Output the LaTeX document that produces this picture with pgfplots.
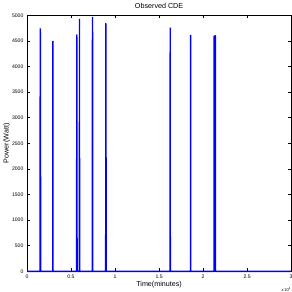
\documentclass[border=0pt]{standalone}
\usepackage{pgfplots}
\pgfplotsset{compat=1.18}
\usepackage{fontspec}
\setmainfont{Liberation Sans}
\begin{document}
\begin{tikzpicture}[trim axis right]
\begin{axis}[
  width=258pt, height=250pt, scale only axis,
  xmin=0, xmax=30000, ymin=0, ymax=5000,
  xtick={0,5000,10000,15000,20000,25000,30000},
  xticklabels={0,0.5,1,1.5,2,2.5,3},
  ytick={0,500,1000,1500,2000,2500,3000,3500,4000,4500,5000},
  yticklabels={0,500,1000,1500,2000,2500,3000,3500,4000,4500,5000},
  scaled x ticks=false,
  scaled y ticks=false,
  tick label style={font=\fontsize{5}{6}\selectfont},
  tick align=inside, major tick length=3pt,
  xlabel={Time(minutes)}, ylabel={Power(Watt)},
  title={Observed CDE},
  label style={font=\fontsize{7}{8}\selectfont},
  title style={font=\fontsize{7}{8}\selectfont, yshift=-3pt},
  xlabel style={yshift=4pt},
  ylabel style={yshift=-5pt},
  axis line style={line width=0.6pt},
  every tick/.style={black, line width=0.5pt},
  clip=false,
]
\addplot[blue, line width=1.3pt, line join=bevel] coordinates {
(0,0)
(1480,0)(1500,4746)(1530,4600)(1550,0)
(2920,0)(2940,4500)(2960,0)
(5630,0)(5650,4626)(5670,4520)(5690,0)
(5940,0)(5960,4932)(5980,0)
(7410,0)(7430,4972)(7450,4632)(7470,0)
(8930,0)(8950,4846)(8970,4700)(8990,0)
(16240,0)(16260,4760)(16280,0)
(18560,0)(18580,4620)(18600,0)
(21240,0)(21250,4590)(21400,4605)(21410,0)
(30000,0)
};
\node[anchor=north east, inner sep=0pt, font=\fontsize{4}{5}\selectfont] at (rel axis cs:1,0) [yshift=-16pt] {x\,10\textsuperscript{4}};
\end{axis}
\end{tikzpicture}
\end{document}
